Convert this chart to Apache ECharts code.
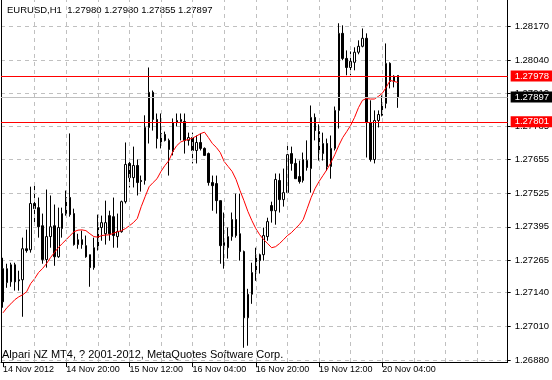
<!DOCTYPE html>
<html><head><meta charset="utf-8">
<script src="https://cdn.jsdelivr.net/npm/echarts@6/dist/echarts.min.js"></script>
<style>html,body{margin:0;padding:0;background:#fff}#c{width:552px;height:380px}</style>
</head><body><div id="c"></div>
<script>
const opens = [1.27233,1.27179,1.27182,1.27248,1.27190,1.27190,1.27310,1.27306,1.27485,1.27469,
1.27399,1.27268,1.27357,1.27399,1.27279,1.27388,1.27446,1.27508,1.27446,1.27326,
1.27345,1.27322,1.27287,1.27237,1.27314,1.27392,1.27368,1.27438,1.27434,1.27357,
1.27376,1.27492,1.27640,1.27585,1.27632,1.27574,1.27574,1.27779,1.27915,1.27810,
1.27717,1.27752,1.27729,1.27686,1.27798,1.27802,1.27802,1.27729,1.27740,1.27690,
1.27721,1.27698,1.27678,1.27566,1.27562,1.27496,1.27322,1.27314,1.27357,1.27423,
1.27368,1.27299,1.27043,1.27134,1.27218,1.27264,1.27287,1.27357,1.27477,1.27457,
1.27574,1.27500,1.27527,1.27678,1.27640,1.27589,1.27574,1.27651,1.27620,1.27818,
1.27763,1.27678,1.27717,1.27628,1.27698,1.27845,1.28143,1.28046,1.28011,1.28031,
1.28070,1.28093,1.28124,1.27798,1.27655,1.27806,1.27826,1.27872,1.28027,1.27957,
1.27980];
const highs = [1.27275,1.27252,1.27256,1.27256,1.27225,1.27353,1.27384,1.27550,1.27558,1.27508,
1.27446,1.27539,1.27516,1.27481,1.27469,1.27469,1.27535,1.27756,1.27465,1.27368,
1.27380,1.27361,1.27287,1.27353,1.27442,1.27438,1.27496,1.27457,1.27508,1.27446,
1.27496,1.27721,1.27655,1.27705,1.27655,1.27593,1.27826,1.28011,1.27922,1.27833,
1.27833,1.27763,1.27736,1.27814,1.27833,1.27833,1.27833,1.27759,1.27759,1.27748,
1.27756,1.27702,1.27682,1.27593,1.27593,1.27496,1.27450,1.27392,1.27450,1.27523,
1.27523,1.27303,1.27155,1.27256,1.27314,1.27291,1.27392,1.27430,1.27492,1.27601,
1.27601,1.27620,1.27721,1.27705,1.27659,1.27651,1.27682,1.27729,1.27864,1.27833,
1.27791,1.27759,1.27736,1.27748,1.27860,1.28182,1.28174,1.28077,1.28073,1.28089,
1.28116,1.28162,1.28143,1.27884,1.27845,1.27845,1.27903,1.28104,1.28031,1.27981,
1.27980];
const lows = [1.27082,1.27159,1.27163,1.27148,1.27148,1.27047,1.27295,1.27295,1.27399,1.27353,
1.27252,1.27237,1.27314,1.27244,1.27275,1.27353,1.27438,1.27434,1.27322,1.27310,
1.27310,1.27275,1.27163,1.27229,1.27303,1.27341,1.27326,1.27341,1.27314,1.27314,
1.27372,1.27485,1.27547,1.27547,1.27516,1.27531,1.27558,1.27717,1.27767,1.27698,
1.27698,1.27725,1.27593,1.27671,1.27783,1.27729,1.27678,1.27709,1.27640,1.27640,
1.27690,1.27671,1.27554,1.27457,1.27446,1.27252,1.27233,1.27272,1.27341,1.27353,
1.27264,1.26927,1.26935,1.27097,1.27186,1.27214,1.27264,1.27341,1.27411,1.27403,
1.27450,1.27473,1.27523,1.27612,1.27581,1.27562,1.27566,1.27612,1.27527,1.27729,
1.27651,1.27651,1.27612,1.27581,1.27690,1.27775,1.28039,1.27981,1.27981,1.28000,
1.28062,1.28089,1.27663,1.27647,1.27640,1.27779,1.27822,1.27853,1.27930,1.27934,
1.27855];
const closes = [1.27105,1.27233,1.27248,1.27182,1.27186,1.27310,1.27303,1.27485,1.27465,1.27395,
1.27268,1.27357,1.27395,1.27279,1.27392,1.27446,1.27508,1.27442,1.27326,1.27345,
1.27326,1.27279,1.27237,1.27314,1.27392,1.27411,1.27411,1.27368,1.27361,1.27376,
1.27492,1.27636,1.27585,1.27632,1.27566,1.27570,1.27779,1.27915,1.27810,1.27736,
1.27756,1.27729,1.27694,1.27798,1.27806,1.27810,1.27729,1.27740,1.27690,1.27721,
1.27698,1.27671,1.27566,1.27554,1.27496,1.27322,1.27334,1.27357,1.27423,1.27361,
1.27299,1.27043,1.27134,1.27218,1.27287,1.27287,1.27361,1.27415,1.27457,1.27578,
1.27500,1.27527,1.27674,1.27640,1.27581,1.27570,1.27655,1.27624,1.27818,1.27767,
1.27678,1.27717,1.27628,1.27698,1.27845,1.28143,1.28046,1.28011,1.28035,1.28070,
1.28093,1.28124,1.27798,1.27655,1.27806,1.27829,1.27872,1.28027,1.27957,1.27977,
1.27897];
const maValues = [1.27062,1.27082,1.27097,1.27113,1.27124,1.27132,1.27144,1.27175,1.27194,1.27218,
1.27233,1.27252,1.27275,1.27295,1.27314,1.27330,1.27345,1.27361,1.27376,1.27382,
1.27383,1.27380,1.27368,1.27357,1.27355,1.27361,1.27363,1.27364,1.27370,1.27376,
1.27380,1.27388,1.27399,1.27411,1.27427,1.27473,1.27512,1.27550,1.27566,1.27581,
1.27609,1.27632,1.27651,1.27686,1.27709,1.27723,1.27729,1.27733,1.27738,1.27746,
1.27755,1.27761,1.27740,1.27717,1.27702,1.27682,1.27647,1.27628,1.27609,1.27578,
1.27535,1.27496,1.27454,1.27419,1.27388,1.27364,1.27345,1.27330,1.27314,1.27318,
1.27330,1.27345,1.27361,1.27372,1.27388,1.27403,1.27423,1.27465,1.27508,1.27543,
1.27570,1.27593,1.27616,1.27643,1.27674,1.27709,1.27740,1.27763,1.27787,1.27818,
1.27856,1.27884,1.27891,1.27889,1.27889,1.27899,1.27911,1.27934,1.27961,1.27957,
1.27953];
const yTickValues = [1.26880,1.27010,1.27140,1.27265,1.27395,1.27525,1.27655,1.27785,1.27910,1.28040,1.28170];
const xTickIdx = [0,16,32,48,64,80,96];
const xTickText = ['14 Nov 2012','14 Nov 20:00','15 Nov 12:00','16 Nov 04:00','16 Nov 20:00','19 Nov 12:00','20 Nov 04:00'];
const vGridIdx = [8,16,24,32,40,48,56,64,72,80,88,96,104,112,120];
const levelPrices = [1.27978, 1.27801];
const bidPrice = 1.27897;
const headerText = 'EURUSD,H1  1.27980 1.27980 1.27855 1.27897';
const copyrightText = 'Alpari NZ MT4, ? 2001-2012, MetaQuotes Software Corp.';

const FONT = '"Liberation Sans", Arial, sans-serif';
const candleData = opens.map((o, i) => [i, o, closes[i], lows[i], highs[i]]);
const maData = maValues.map((v, i) => [i, v]);
const yMin = 1.26872, yMax = 1.28272;
const xMin = -0.5, xMax = 127.75;

const chart = echarts.init(document.getElementById('c'), null, {renderer: 'canvas'});
const levelLabel = {show: true, position: 'end', distance: 3, formatter: p => Number(p.value).toFixed(5),
  fontFamily: FONT, fontSize: 9.5, padding: [1, 8, 0, 4], lineHeight: 10, color: '#ffffff'};
const priceMarks = [{
  yAxis: bidPrice,
  lineStyle: {color: '#c0c0c0', width: 1, type: 'solid'},
  label: Object.assign({}, levelLabel, {backgroundColor: '#000000'})
}].concat(levelPrices.map(p => ({
  yAxis: p,
  lineStyle: {color: '#ff0000', width: 1, type: 'solid'},
  label: Object.assign({}, levelLabel, {backgroundColor: '#ff0000'})
})));
const gridMarks = vGridIdx.map(v => ({xAxis: v}));

chart.setOption({
  animation: false,
  backgroundColor: '#ffffff',
  grid: {left: 1, right: 38, top: 0, bottom: 18, containLabel: false},
  xAxis: [
    {type: 'value', min: xMin, max: xMax, position: 'bottom',
     axisLine: {show: true, onZero: false, lineStyle: {color: '#000', width: 1}},
     axisTick: {show: true, length: 5, customValues: xTickIdx, lineStyle: {color: '#000'}},
     axisLabel: {show: true, customValues: xTickIdx, formatter: v => xTickText[xTickIdx.indexOf(v)],
       align: 'left', margin: 3, color: '#000', fontFamily: FONT, fontSize: 9},
     splitLine: {show: false}}
  ],
  yAxis: [
    {type: 'value', position: 'right', min: yMin, max: yMax,
     axisLine: {show: true, onZero: false, lineStyle: {color: '#000', width: 1}},
     axisTick: {show: true, length: 3, customValues: yTickValues, lineStyle: {color: '#000'}},
     axisLabel: {show: true, customValues: yTickValues, formatter: v => v.toFixed(5), margin: 7,
       color: '#000', fontFamily: FONT, fontSize: 9.5},
     splitLine: {show: true, lineStyle: {color: '#c0c0c0', width: 1, type: [4, 4]}}},
    {type: 'value', position: 'left', min: yMin, max: yMax,
     axisLine: {show: true, onZero: false, lineStyle: {color: '#000', width: 1}},
     axisTick: {show: false}, axisLabel: {show: false}, splitLine: {show: false}}
  ],
  series: [
    {type: 'line', xAxisIndex: 0, yAxisIndex: 0, data: [], symbol: 'none', z: 1,
     markLine: {silent: true, symbol: ['none', 'none'], animation: false, label: {show: false},
       lineStyle: {color: '#c0c0c0', width: 1, type: [4, 4]}, data: gridMarks}},
    {type: 'candlestick', xAxisIndex: 0, yAxisIndex: 0, data: candleData,
     encode: {x: 0, y: [1, 2, 3, 4]}, barWidth: 2,
     itemStyle: {color: '#ffffff', color0: '#000000', borderColor: '#000000', borderColor0: '#000000', borderWidth: 1},
     z: 3},
    {type: 'line', xAxisIndex: 0, yAxisIndex: 0, data: maData, symbol: 'none',
     lineStyle: {color: '#ff0000', width: 1}, z: 4,
     markLine: {silent: true, precision: 5, symbol: ['none', 'none'], animation: false, data: priceMarks}}
  ],
  graphic: [
    {type: 'text', left: 7, top: 5, style: {text: headerText, fill: '#000', font: '9.5px ' + FONT}},
    {type: 'text', left: 2, top: 349, style: {text: copyrightText, fill: '#000', font: '11px ' + FONT}}
  ]
});
</script></body></html>
